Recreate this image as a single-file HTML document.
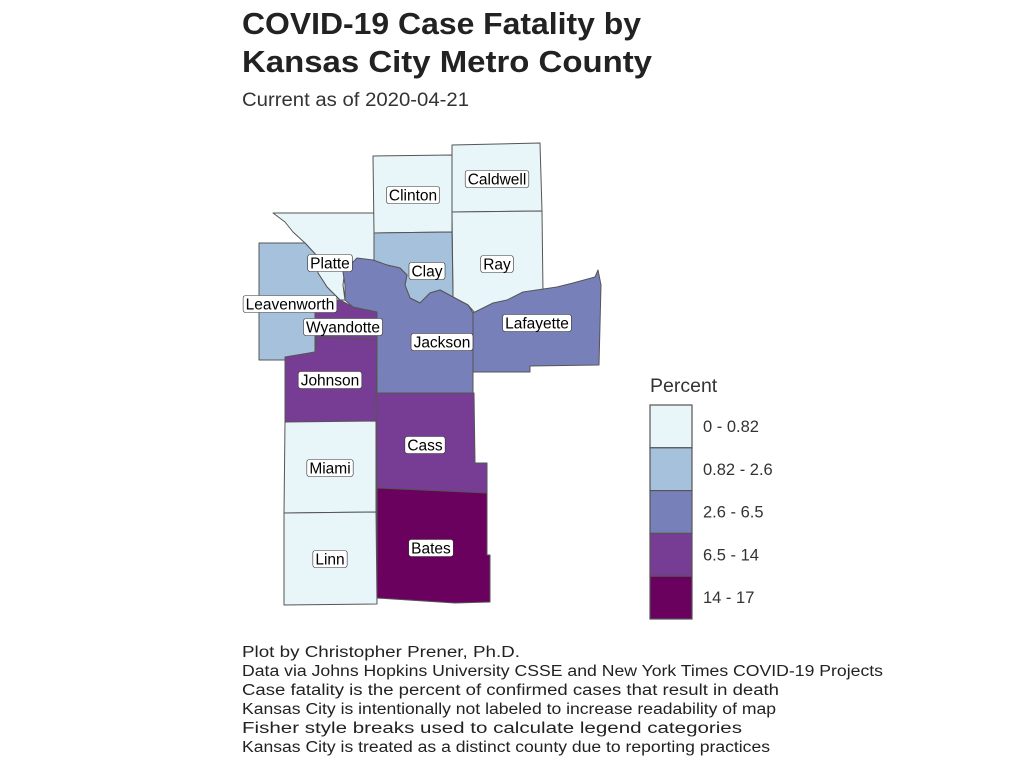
<!DOCTYPE html>
<html><head><meta charset="utf-8"><style>
body{margin:0;background:#fff;font-family:"Liberation Sans",sans-serif;}
svg text{font-family:"Liberation Sans",sans-serif;}
</style></head><body>
<svg width="1024" height="768" viewBox="0 0 1024 768">
<text x="242" y="34" font-size="31" font-weight="bold" fill="#222" textLength="399" lengthAdjust="spacingAndGlyphs">COVID-19 Case Fatality by</text>
<text x="242" y="72" font-size="31" font-weight="bold" fill="#222" textLength="410" lengthAdjust="spacingAndGlyphs">Kansas City Metro County</text>
<text x="242" y="106" font-size="19" fill="#333" textLength="227" lengthAdjust="spacingAndGlyphs">Current as of 2020-04-21</text>
<g id="map" stroke="#555" stroke-width="1" stroke-linejoin="round"></g>
<g id="labels"></g>
<g id="legend"></g>
<g font-size="15.5" fill="#222" lengthAdjust="spacingAndGlyphs">
<text x="242" y="657" textLength="278" lengthAdjust="spacingAndGlyphs">Plot by Christopher Prener, Ph.D.</text>
<text x="242" y="676" textLength="641" lengthAdjust="spacingAndGlyphs">Data via Johns Hopkins University CSSE and New York Times COVID-19 Projects</text>
<text x="242" y="695" textLength="537" lengthAdjust="spacingAndGlyphs">Case fatality is the percent of confirmed cases that result in death</text>
<text x="242" y="714" textLength="534" lengthAdjust="spacingAndGlyphs">Kansas City is intentionally not labeled to increase readability of map</text>
<text x="242" y="733" textLength="500" lengthAdjust="spacingAndGlyphs">Fisher style breaks used to calculate legend categories</text>
<text x="242" y="752" textLength="528" lengthAdjust="spacingAndGlyphs">Kansas City is treated as a distinct county due to reporting practices</text>
</g>
</svg>
<script>
const categories=["0 - 0.82","0.82 - 2.6","2.6 - 6.5","6.5 - 14","14 - 17"];
const colors=["#e8f5f9","#a6c1dc","#7880b9","#773d95","#6a015f"];
const countyNames=["Platte","Leavenworth","Clinton","Caldwell","Ray","Clay","Wyandotte","Johnson","Jackson","Lafayette","Cass","Bates","Miami","Linn"];
const countyClass=[0,1,0,0,0,1,3,3,2,2,3,4,0,0];
const shapes={
Platte:"273,213 374,213 374,262 360,265 345,268 343,285 345,300 340,300 327,287 318,273 318,257 305,243 293,232 285,222",
Leavenworth:"259,243 305,243 318,257 318,273 327,287 340,300 315,305 315,352 295,356 285,360 259,360",
Clinton:"373,156 452,155 452,232 374,233",
Caldwell:"452,145 540,143 542,211 452,212",
Ray:"452,212 542,211 543,293 525,297 510,305 497,310 475,313 468,305 453,297",
Clay:"374,233 452,232 453,297 440,290 430,293 420,303 410,298 405,285 407,275 400,268 387,265 374,262",
Wyandotte:"315,305 340,300 353,307 377,312 377,340 317,337 315,352",
Johnson:"285,357 315,352 317,337 377,340 376,422 285,422",
Jackson:"343,272 357,258 373,260 387,265 400,268 407,275 405,285 410,298 420,303 430,293 440,290 453,297 468,305 473,313 473,393 377,393 377,312 353,307 345,300 345,285",
Lafayette:"473,313 493,303 507,300 523,292 557,287 573,283 595,277 598,270 601,285 599,365 530,366 530,372 473,372",
Cass:"376,393 474,393 475,463 487,463 487,493 377,488",
Bates:"377,488 487,493 487,555 490,555 490,602 455,603 377,598",
Miami:"285,422 376,421 376,512 284,513",
Linn:"284,513 376,512 377,604 284,605"};
const labelPos={Clinton:[413,195],Caldwell:[497,179],Platte:[330,263],Clay:[427,271],Ray:[497,264],Leavenworth:[290,304],Wyandotte:[343,327],Jackson:[442,342],Lafayette:[537,323],Johnson:[330,380],Cass:[425,445],Miami:[330,468],Bates:[431,548],Linn:[330,559]};
const NS="http://www.w3.org/2000/svg";
const map=document.getElementById('map');
countyNames.forEach((n,i)=>{
 const p=document.createElementNS(NS,'polygon');
 p.setAttribute('points',shapes[n]);
 p.setAttribute('fill',colors[countyClass[i]]);
 
 
 map.appendChild(p);
});
const lab=document.getElementById('labels');
countyNames.forEach(n=>{
 const [x,y]=labelPos[n];
 const t=document.createElementNS(NS,'text');
 t.setAttribute('x',x);t.setAttribute('y',y+5.5);t.setAttribute('text-anchor','middle');t.setAttribute('font-size','15.5');t.setAttribute('fill','#000');
 t.textContent=n;
 
 
 lab.appendChild(t);
 const w=t.getComputedTextLength()+5;
 const r=document.createElementNS(NS,'rect');
 r.setAttribute('x',x-w/2);r.setAttribute('y',y-8.5);r.setAttribute('width',w);r.setAttribute('height',17);
 r.setAttribute('rx',2.5);r.setAttribute('fill','#fff');r.setAttribute('stroke','#333');r.setAttribute('stroke-width','0.6');
 
 
 lab.insertBefore(r,t);
});
const lg=document.getElementById('legend');
const tt=document.createElementNS(NS,'text');
tt.setAttribute('x',650);tt.setAttribute('y',392);tt.setAttribute('font-size','19.5');tt.setAttribute('fill','#333');
tt.textContent='Percent';


lg.appendChild(tt);
categories.forEach((c,i)=>{
 const y=405+i*42.8;
 const r=document.createElementNS(NS,'rect');
 r.setAttribute('x',650);r.setAttribute('y',y);r.setAttribute('width',42);r.setAttribute('height',42.8);
 r.setAttribute('fill',colors[i]);r.setAttribute('stroke','#555');r.setAttribute('stroke-width','1.2');
 
 
 lg.appendChild(r);
 const t=document.createElementNS(NS,'text');
 t.setAttribute('x',703);t.setAttribute('y',y+27);t.setAttribute('font-size','16.5');t.setAttribute('fill','#333');
 t.textContent=c;
 
 
 lg.appendChild(t);
});
</script>
</body></html>
